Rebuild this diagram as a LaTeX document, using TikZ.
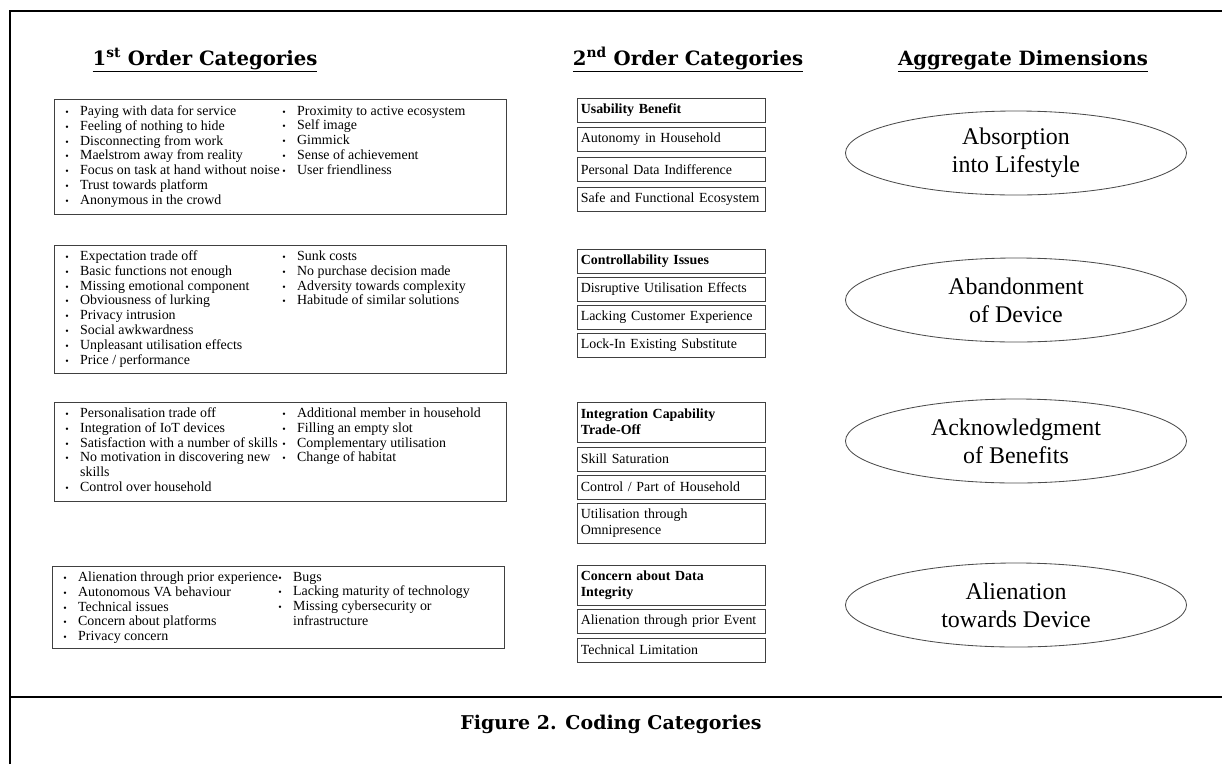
\documentclass[tikz,border=0pt]{standalone}
\usepackage{fontspec}
\setmainfont{Liberation Serif}
\newfontfamily\headfont{DejaVu Serif}
\usetikzlibrary{shapes.geometric}
\newcommand{\itm}{\makebox[10.6pt][l]{\fontsize{7}{7}\selectfont\textbullet}}
\newcommand{\cnt}{\makebox[10.6pt][l]{}}

\begin{document}
\begin{tikzpicture}[x=0.025cm, y=0.025cm]
    \tikzstyle{every node}+=[inner sep=0pt]
    \tikzstyle{frame}=[black, line width=2.1pt]
    \tikzstyle{heading}=[anchor=base, font=\headfont\bfseries\fontsize{14}{16}\selectfont]
    \tikzstyle{listbox}=[draw=black!75, line width=0.7pt, anchor=north west, minimum width=11.3cm]
    \tikzstyle{items}=[anchor=north west, align=left, font=\fontsize{9.9}{10.5}\selectfont]
    \tikzstyle{catbox}=[draw=black!75, line width=0.7pt, text width=129pt, inner xsep=2.5pt, align=left, minimum height=0.6cm, font=\fontsize{9.9}{11.4}\selectfont]
    \tikzstyle{cathead}=[catbox, font=\fontsize{9.9}{11.4}\selectfont\bfseries]
    \tikzstyle{dimension}=[ellipse, draw=black!70, line width=0.6pt, minimum width=8.525cm, minimum height=2.1cm, align=center, font=\fontsize{17}{20}\selectfont]
    \useasboundingbox (0,0) rectangle (1222,-764);
    \draw [frame] (10,-764) -- (10,-11) -- (1222,-11);
    \draw [frame] (10,-697) -- (1222,-697);
    \node [heading] (firsthead) at (205,-65) {\underline{1\textsuperscript{st} Order Categories}};
    \node [heading] (secondhead) at (688,-65) {\underline{2\textsuperscript{nd} Order Categories}};
    \node [heading] (aggrhead) at (1023,-65) {\underline{Aggregate Dimensions}};
    \node [listbox, minimum height=2.875cm] (absorblist) at (54,-99) {};
    \node [items] (absorbleft) at (65,-105.6) {\itm Paying with data for service\\\itm Feeling of nothing to hide\\\itm Disconnecting from work\\\itm Maelstrom away from reality\\\itm Focus on task at hand without noise\\\itm Trust towards platform\\\itm Anonymous in the crowd};
    \node [items] (absorbright) at (282,-105.6) {\itm Proximity to active ecosystem\\\itm Self image\\\itm Gimmick\\\itm Sense of achievement\\\itm User friendliness};
    \node [listbox, minimum height=3.2cm] (abandonlist) at (54,-245) {};
    \node [items] (abandonleft) at (65,-250.6) {\itm Expectation trade off\\\itm Basic functions not enough\\\itm Missing emotional component\\\itm Obviousness of lurking\\\itm Privacy intrusion\\\itm Social awkwardness\\\itm Unpleasant utilisation effects\\\itm Price / performance};
    \node [items] (abandonright) at (282,-250.6) {\itm Sunk costs\\\itm No purchase decision made\\\itm Adversity towards complexity\\\itm Habitude of similar solutions};
    \node [listbox, minimum height=2.475cm] (acknowlist) at (54,-402) {};
    \node [items] (acknowleft) at (65,-407.6) {\itm Personalisation trade off\\\itm Integration of IoT devices\\\itm Satisfaction with a number of skills\\\itm No motivation in discovering new\\\cnt skills\\\itm Control over household};
    \node [items] (acknowright) at (282,-407.6) {\itm Additional member in household\\\itm Filling an empty slot\\\itm Complementary utilisation\\\itm Change of habitat};
    \node [listbox, minimum height=2.05cm] (alienlist) at (52,-566) {};
    \node [items] (alienleft) at (63,-571.6) {\itm Alienation through prior experience\\\itm Autonomous VA behaviour\\\itm Technical issues\\\itm Concern about platforms\\\itm Privacy concern};
    \node [items] (alienright) at (278,-571.6) {\itm Bugs\\\itm Lacking maturity of technology\\\itm Missing cybersecurity or\\\cnt infrastructure};
    \node [cathead] (absorbcat) at (671.5,-110.5) {Usability Benefit};
    \node [catbox] (absorbA) at (671.5,-139.5) {Autonomy in Household};
    \node [catbox] (absorbB) at (671.5,-169.5) {Personal Data Indifference};
    \node [catbox] (absorbC) at (671.5,-199) {Safe and Functional Ecosystem};
    \node [cathead] (abandoncat) at (671.5,-261) {Controllability Issues};
    \node [catbox] (abandonA) at (671.5,-289.5) {Disruptive Utilisation Effects};
    \node [catbox] (abandonB) at (671.5,-317.5) {Lacking Customer Experience};
    \node [catbox] (abandonC) at (671.5,-345.5) {Lock-In Existing Substitute};
    \node [cathead, minimum height=1cm] (acknowcat) at (671.5,-422) {Integration Capability\\Trade-Off};
    \node [catbox] (acknowA) at (671.5,-459) {Skill Saturation};
    \node [catbox] (acknowB) at (671.5,-487) {Control / Part of Household};
    \node [catbox, minimum height=1cm] (acknowC) at (671.5,-523) {Utilisation through\\Omnipresence};
    \node [cathead, minimum height=1cm] (aliencat) at (671.5,-585.5) {Concern about Data\\Integrity};
    \node [catbox] (alienA) at (671.5,-621) {Alienation through prior Event};
    \node [catbox] (alienB) at (671.5,-650) {Technical Limitation};
    \node [dimension] (absorb) at (1016,-153) {Absorption\\into Lifestyle};
    \node [dimension] (abandon) at (1016,-300) {Abandonment\\of Device};
    \node [dimension] (acknow) at (1016,-441) {Acknowledgment\\of Benefits};
    \node [dimension] (alien) at (1016,-605) {Alienation\\towards Device};
    \node [heading, anchor=center, font=\headfont\bfseries\fontsize{13.5}{16}\selectfont] (caption) at (611,-724) {Figure 2. Coding Categories};
\end{tikzpicture}
\end{document}
